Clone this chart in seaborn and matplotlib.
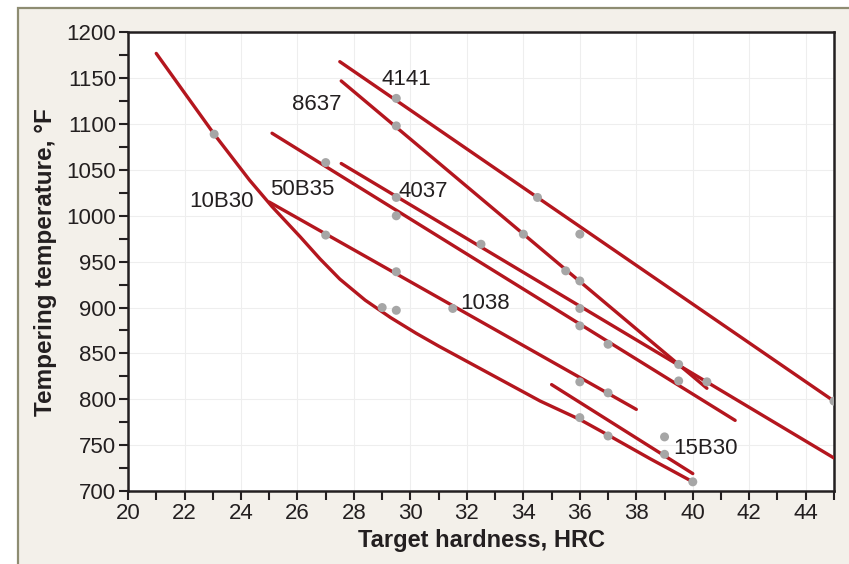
import pandas as pd
import matplotlib.pyplot as plt
import seaborn as sns
from matplotlib.patches import Rectangle
from matplotlib.ticker import MultipleLocator

# Tempering temperature vs target hardness for several steels

# line data (HRC, deg F)
x_4141 = [27.5, 45.0]
y_4141 = [1168, 798]
x_8637 = [27.55, 40.5]
y_8637 = [1147, 812]
x_4037 = [27.55, 45.0]
y_4037 = [1057, 736]
x_50b35 = [25.1, 41.5]
y_50b35 = [1090, 777]
x_1038 = [25.0, 38.0]
y_1038 = [1015, 789]
x_15b30 = [35.0, 40.0]
y_15b30 = [816, 719]
x_10b30 = [21.0, 22.0, 23.05, 24.3, 25.1, 26.1, 26.8, 27.5, 28.4, 29.3, 30.2, 31.0,
           32.2, 33.4, 34.6, 36.0, 37.0, 38.5, 40.0]
y_10b30 = [1177, 1134, 1089, 1039, 1010, 977, 953, 931, 908, 889, 872, 858,
           838, 818, 798, 778, 761, 735, 710]

# measured points (grey dots)
dot_x = [23.05, 29.0, 29.5, 36.0, 37.0, 40.0,
         27.0, 29.5, 36.0, 37.0, 39.5,
         27.0, 29.5, 31.5, 36.0, 37.0,
         29.5, 32.5, 36.0, 40.5,
         29.5, 34.0, 35.5, 36.0, 39.5,
         29.5, 34.5, 36.0, 45.0,
         39.0, 39.0]
dot_y = [1089, 900, 897, 780, 760, 710,
         1058, 1000, 880, 860, 820,
         979, 939, 899, 819, 807,
         1020, 969, 899, 819,
         1098, 980, 940, 929, 838,
         1128, 1020, 980, 798,
         740, 759]

steels = ["4141", "8637", "4037", "50B35", "1038", "15B30", "10B30"]
xs = [x_4141, x_8637, x_4037, x_50b35, x_1038, x_15b30, x_10b30]
ys = [y_4141, y_8637, y_4037, y_50b35, y_1038, y_15b30, y_10b30]

rows = []
for name, lx, ly in zip(steels, xs, ys):
    for a, b in zip(lx, ly):
        rows.append({"steel": name, "hrc": a, "temp": b})
df_lines = pd.DataFrame(rows)
df_dots = pd.DataFrame({"hrc": dot_x, "temp": dot_y})

sns.set_theme(style="white")
plt.rcParams['font.family'] = ['Liberation Sans', 'DejaVu Sans']

red = "#b4161e"
dark = "#231f20"

fig = plt.figure(figsize=(8.49, 5.64), dpi=100, facecolor="white")
# beige panel with olive frame (only top and left edges visible)
fig.patches.append(Rectangle((18 / 849, -0.1), 1.2, 556 / 564 + 0.1,
                             transform=fig.transFigure, facecolor="#f3f0ea",
                             edgecolor="#8e8c72", linewidth=1.6, zorder=-10))
ax = fig.add_axes([0.1508, 0.1294, 0.9823 - 0.1508, 0.9427 - 0.1294])
ax.set_zorder(2)
ax.set_facecolor("white")

sns.lineplot(data=df_lines, x="hrc", y="temp", units="steel", estimator=None,
             sort=False, color=red, linewidth=2.4, ax=ax, legend=False, zorder=3)
sns.scatterplot(data=df_dots, x="hrc", y="temp", color="#a6a6a6", s=42,
                edgecolor="none", ax=ax, legend=False, zorder=4)

# steel labels
labels = [("4141", 28.99, 1151), ("8637", 25.82, 1124), ("10B30", 22.16, 1018),
          ("50B35", 25.03, 1031), ("4037", 29.59, 1029), ("1038", 31.76, 907),
          ("15B30", 39.31, 749)]
for txt, lx, ly in labels:
    ax.text(lx, ly, txt, fontsize=16, color=dark, ha="left", va="center_baseline", zorder=5)

ax.set_xlim(20, 45)
ax.set_ylim(700, 1200)
ax.xaxis.set_major_locator(MultipleLocator(2))
ax.xaxis.set_minor_locator(MultipleLocator(1))
ax.yaxis.set_major_locator(MultipleLocator(50))
ax.yaxis.set_minor_locator(MultipleLocator(25))
ax.grid(True, which="major", color="#eeeeee", linewidth=0.8, zorder=0)
ax.set_axisbelow(True)

for s in ax.spines.values():
    s.set_color(dark)
    s.set_linewidth(1.8)
ax.tick_params(which="both", direction="out", length=6.5, width=1.5, color=dark,
               bottom=True, left=True, top=False, right=False)
ax.tick_params(which="major", labelsize=16, labelcolor=dark, pad=2)

ax.set_xlabel("Target hardness, HRC", fontsize=17, fontweight="bold", color=dark, labelpad=4)
ax.set_ylabel("Tempering temperature, °F", fontsize=17.5, fontweight="bold", color=dark, labelpad=7)

fig.savefig("out.png", dpi=100, facecolor=fig.get_facecolor())
